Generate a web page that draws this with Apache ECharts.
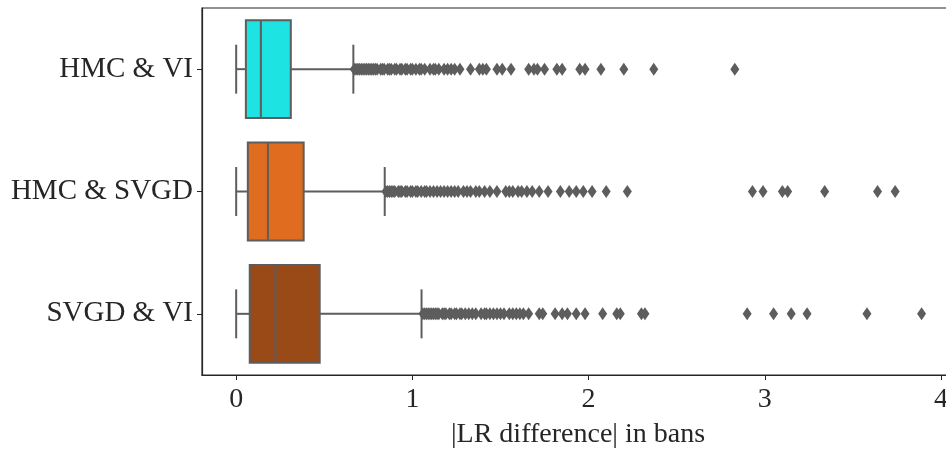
<!DOCTYPE html>
<html>
<head>
<meta charset="utf-8">
<script src="https://cdn.jsdelivr.net/npm/echarts@6/dist/echarts.min.js"></script>
<style>
    html, body { margin: 0; padding: 0; background: #fff; }
    #chart { width: 946px; height: 451px; }
</style>
</head>
<body>
<div id="chart"></div>
<script>
// categories, top to bottom
const categories = ['HMC & VI', 'HMC & SVGD', 'SVGD & VI'];
const boxColors = ['#1de3e3', '#e06c1f', '#9a4a16'];

// [lower whisker, Q1, median, Q3, upper whisker]
const hmcViBox = [0, 0.055, 0.14, 0.31, 0.665];
const hmcSvgdBox = [0, 0.066, 0.18, 0.383, 0.843];
const svgdViBox = [0, 0.077, 0.223, 0.474, 1.052];

// outliers
const hmcViOutliers = [0.67, 0.68, 0.69, 0.70, 0.71, 0.72, 0.73, 0.74, 0.75, 0.76, 0.77, 0.78, 0.79, 0.80,
    0.82, 0.83, 0.84, 0.86, 0.87, 0.88, 0.90, 0.91, 0.93, 0.94, 0.96, 0.97, 0.99, 1.00, 1.02, 1.04,
    1.05, 1.07, 1.10, 1.12, 1.13, 1.15, 1.18, 1.20, 1.22, 1.24, 1.27, 1.33, 1.38, 1.40, 1.42, 1.48,
    1.51, 1.56, 1.66, 1.69, 1.71, 1.75, 1.82, 1.85, 1.95, 1.98, 2.07, 2.20, 2.37, 2.83];
const hmcSvgdOutliers = [0.85, 0.86, 0.87, 0.88, 0.89, 0.90, 0.92, 0.93, 0.94, 0.96, 0.97, 0.99, 1.00,
    1.02, 1.03, 1.05, 1.07, 1.08, 1.10, 1.12, 1.14, 1.16, 1.18, 1.20, 1.22, 1.24, 1.26, 1.29, 1.31,
    1.33, 1.36, 1.38, 1.41, 1.44, 1.48, 1.53, 1.55, 1.57, 1.60, 1.62, 1.65, 1.68, 1.72, 1.77, 1.84,
    1.89, 1.93, 1.97, 2.02, 2.10, 2.22, 2.93, 2.99, 3.10, 3.13, 3.34, 3.64, 3.74];
const svgdViOutliers = [1.06, 1.07, 1.08, 1.09, 1.10, 1.11, 1.12, 1.13, 1.14, 1.15, 1.17, 1.18, 1.19,
    1.21, 1.22, 1.24, 1.25, 1.27, 1.28, 1.30, 1.32, 1.34, 1.36, 1.39, 1.41, 1.42, 1.44, 1.46, 1.48,
    1.50, 1.52, 1.55, 1.57, 1.59, 1.61, 1.63, 1.66, 1.72, 1.74, 1.81, 1.85, 1.88, 1.93, 1.98, 2.08,
    2.16, 2.18, 2.30, 2.32, 2.90, 3.05, 3.15, 3.24, 3.58, 3.89];

const xTicks = [0, 1, 2, 3, 4];
const xMin = -0.194;
const xMax = 4.074;

const lineColor = '#5d5d5d';
const fontFamily = '"Liberation Serif", "DejaVu Serif", serif';

const boxes = [hmcViBox, hmcSvgdBox, svgdViBox];
const outlierLists = [hmcViOutliers, hmcSvgdOutliers, svgdViOutliers];

const boxData = boxes.map((b, i) => [i].concat(b));
const outlierData = [];
outlierLists.forEach((list, i) => {
    list.forEach(v => outlierData.push([v, i]));
});

function renderBox(params, api) {
    const cat = api.value(0);
    const band = api.size([0, 1])[1];
    const y = api.coord([0, cat])[1];
    const half = band * 0.4;
    const cap = band * 0.2;
    const px = k => api.coord([api.value(k), cat])[0];
    const lo = px(1), q1 = px(2), med = px(3), q3 = px(4), hi = px(5);
    const line = { stroke: lineColor, lineWidth: 2 };
    return {
        type: 'group',
        children: [
            { type: 'line', shape: { x1: lo, y1: y, x2: q1, y2: y }, style: line },
            { type: 'line', shape: { x1: q3, y1: y, x2: hi, y2: y }, style: line },
            { type: 'line', shape: { x1: lo, y1: y - cap, x2: lo, y2: y + cap }, style: line },
            { type: 'line', shape: { x1: hi, y1: y - cap, x2: hi, y2: y + cap }, style: line },
            {
                type: 'rect',
                shape: { x: q1, y: y - half, width: q3 - q1, height: half * 2 },
                style: { fill: boxColors[cat], stroke: lineColor, lineWidth: 2 }
            },
            { type: 'line', shape: { x1: med, y1: y - half, x2: med, y2: y + half }, style: line }
        ]
    };
}

const chart = echarts.init(document.getElementById('chart'));
chart.setOption({
    animation: false,
    grid: {
        left: 202, top: 8, width: 752, bottom: 76,
        outerBoundsMode: 'none', containLabel: false,
        show: true, borderColor: '#262626', borderWidth: 1.2
    },
    xAxis: {
        type: 'value',
        min: xMin,
        max: xMax,
        splitLine: { show: false },
        axisLine: { show: true, onZero: false, lineStyle: { color: '#262626', width: 1.2 } },
        axisTick: { show: true, length: 5, customValues: xTicks, lineStyle: { color: '#262626' } },
        axisLabel: {
            customValues: xTicks, margin: 11,
            fontFamily: fontFamily, fontSize: 28, color: '#262626'
        },
        name: '|LR difference| in bans',
        nameLocation: 'middle',
        nameGap: 46,
        nameTextStyle: { fontFamily: fontFamily, fontSize: 28, color: '#262626' }
    },
    yAxis: {
        type: 'category',
        data: categories,
        inverse: true,
        axisLine: { show: true, onZero: false, lineStyle: { color: '#262626', width: 1.2 } },
        axisTick: { show: true, length: 5, alignWithLabel: true, lineStyle: { color: '#262626' } },
        axisLabel: { margin: 9, fontFamily: fontFamily, fontSize: 29, color: '#262626' },
        splitLine: { show: false }
    },
    series: [
        {
            type: 'custom',
            renderItem: renderBox,
            encode: { x: [1, 2, 3, 4, 5], y: 0 },
            data: boxData,
            z: 2
        },
        {
            type: 'scatter',
            symbol: 'diamond',
            symbolSize: [9, 13],
            itemStyle: { color: lineColor, opacity: 1 },
            data: outlierData,
            z: 3
        }
    ]
});
</script>
</body>
</html>
